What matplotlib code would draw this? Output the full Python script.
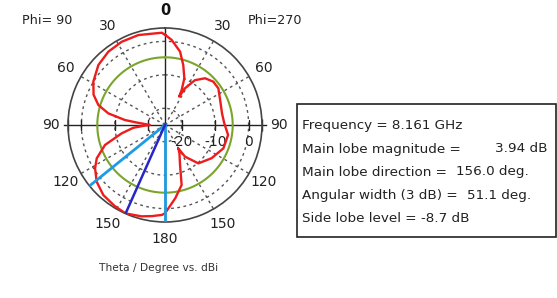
import numpy as np
import matplotlib
matplotlib.use("Agg")
import matplotlib.pyplot as plt
from matplotlib.patches import Rectangle

# ---- data (dB) ----
# left half of the plot: Phi = 90, theta measured counter-clockwise from top
theta_left = [0, 2, 16.5, 27.5, 37.7, 48, 58.8, 67, 73.3, 78.4, 82.9, 85, 88, 90,
              91.6, 95, 100.9, 108.4, 116, 121.8, 129.7, 138.6, 148, 156, 165.6, 172, 178, 180]
db_left = [2.0, 2.6, 3.05, 3.05, 2.7, 1.8, 0.05, -1.8, -4.2, -7.7, -12.9, -16.5, -19.5, -20.5,
           -19.0, -15.5, -11.8, -6.1, -2.3, -0.4, 1.55, 2.9, 3.5, 3.94, 3.2, 2.5, 1.9, 1.4]
# right half of the plot: Phi = 270, theta measured clockwise from top
theta_right = [0, 4.5, 11.6, 17, 22.5, 25.5, 26.5, 28.6, 33.7, 40.6, 48.1, 55.5, 65.6, 78.4,
               88, 99, 111.8, 125.5, 139, 147.7, 150.3, 153, 159.4, 164.5, 172, 180]
db_right = [2.0, 0.5, -2.6, -6.3, -9.9, -13.4, -15.5, -12.5, -8.9, -6.6, -5.6, -5.65, -6.9, -7.6,
            -7.3, -5.9, -6.2, -7.9, -9.8, -13.8, -17.0, -15.5, -12.2, -6.4, -2.9, 1.4]

r_min, r_max = -25.0, 4.0
grid_levels = [-20, -10, 0]
grid_angles = [30, 60, 120, 150, 210, 240, 300, 330]
angle_labels = ["30", "60", "90", "120", "150"]
main_lobe_dir = 156.0
main_lobe_mag = 3.94
beam_edges = [128.9, 180.0]
side_lobe_level = -8.7

info_labels = ["Frequency = 8.161 GHz", "Main lobe magnitude =", "Main lobe direction =",
               "Angular width (3 dB) =", "Side lobe level ="]
info_values = ["", "3.94 dB", "156.0 deg.", "51.1 deg.", "-8.7 dB"]

# ---- figure ----
W, H = 557, 298
fig = plt.figure(figsize=(W / 100, H / 100), dpi=100)
fig.patch.set_facecolor("white")
cx, cy, R = 165, 125, 97
ax = fig.add_axes([(cx - R) / W, (H - cy - R) / H, 2 * R / W, 2 * R / H], projection="polar")
ax.set_theta_zero_location("N")
ax.set_theta_direction(1)
ax.set_ylim(r_min, r_max)
ax.set_xticks([])
ax.set_yticks([])
ax.grid(False)
ax.spines["polar"].set_color("#444444")
ax.spines["polar"].set_linewidth(1.2)

full = np.linspace(0, 2 * np.pi, 361)
dash = (0, (2, 2.5))
for lv in grid_levels:
    ax.plot(full, np.full_like(full, lv), color="#555555", lw=1.0, ls=dash, zorder=1)
for a in grid_angles:
    ax.plot([np.radians(a)] * 2, [r_min, r_max], color="#555555", lw=1.0, ls=dash, zorder=1)
# main axes
ax.plot([0, 0], [r_min, r_max], color="#222222", lw=1.0, zorder=2)
ax.plot([np.pi, np.pi], [r_min, r_max], color="#222222", lw=1.0, zorder=2)
ax.plot([np.pi / 2] * 2, [r_min, 5.3], color="#222222", lw=1.0, zorder=2, clip_on=False)
ax.plot([3 * np.pi / 2] * 2, [r_min, 5.3], color="#222222", lw=1.0, zorder=2, clip_on=False)
for lv in grid_levels:
    ax.plot([3 * np.pi / 2], [lv], marker="|", ms=7, color="#222222", mew=1.0, zorder=2)
    ax.plot([np.pi / 2], [lv], marker="|", ms=7, color="#222222", mew=1.0, zorder=2)
ax.plot([3 * np.pi / 2, np.pi / 2], [r_max, r_max], ls="none", marker="|", ms=8,
        color="#222222", mew=1.0, clip_on=False, zorder=2)

# side lobe level circle
sll = main_lobe_mag + side_lobe_level
ax.plot(full, np.full_like(full, sll), color="#7aa52a", lw=1.5, zorder=3)

# pattern
th = np.array(theta_left + [360 - t for t in theta_right])
vals = np.array(db_left + db_right)
order = np.argsort(th)
th, vals = th[order], vals[order]
th = np.append(th, th[0] + 360)
vals = np.append(vals, vals[0])
ax.plot(np.radians(th), vals, color="#ee1c1c", lw=1.7, zorder=4)

# beam lines
for b in beam_edges:
    ax.plot([np.radians(b)] * 2, [r_min, r_max], color="#1e9be2", lw=2.0, zorder=5)
ax.plot([np.radians(main_lobe_dir)] * 2, [r_min, main_lobe_mag], color="#2727c8", lw=1.8, zorder=6)

# angle labels
lab_r = 9.2
fs = 10
for i, s in enumerate(angle_labels):
    a = 30 * (i + 1)
    ax.text(np.radians(a), lab_r, s, ha="center", va="center", fontsize=fs, color="#222222")
    ax.text(np.radians(360 - a), lab_r, s, ha="center", va="center", fontsize=fs, color="#222222")
ax.text(0, lab_r, "0", ha="center", va="center", fontsize=fs + 0.5, fontweight="bold", color="#111111")
ax.text(np.pi, lab_r, "180", ha="center", va="center", fontsize=fs, color="#222222")

# radial labels
for lv in grid_levels:
    ax.annotate(str(lv), xy=(3 * np.pi / 2, lv), xytext=(0, -17), textcoords="offset pixels",
                ha="center", va="center", fontsize=fs, color="#222222")

fig.text(47 / W, 1 - 20 / H, "Phi= 90", ha="center", va="center", fontsize=9.2, color="#222222")
fig.text(275 / W, 1 - 20 / H, "Phi=270", ha="center", va="center", fontsize=9.2, color="#222222")
fig.text(159 / W, 1 - 268 / H, "Theta / Degree vs. dBi", ha="center", va="center",
         fontsize=7.7, color="#333333")

# info box
bx0, by0, bx1, by1 = 297, 104, 556, 237
fig.add_artist(Rectangle((bx0 / W, 1 - by1 / H), (bx1 - bx0) / W, (by1 - by0) / H,
                         transform=fig.transFigure, fill=False, ec="#222222", lw=1.2))
line_y = [125, 149, 172, 195, 219]
val_x = [0, 495, 456, 467, 421]
ifs = 9.7
for s, v, y, vx in zip(info_labels, info_values, line_y, val_x):
    fig.text(302 / W, 1 - y / H, s, ha="left", va="center", fontsize=ifs, color="#222222")
    if v:
        fig.text(vx / W, 1 - y / H, v, ha="left", va="center", fontsize=ifs, color="#222222")

fig.savefig("out.png", dpi=100)
